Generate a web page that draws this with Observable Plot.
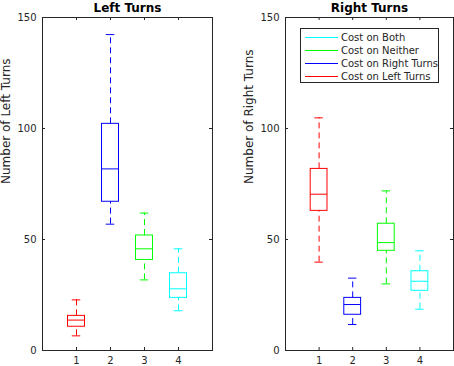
<!DOCTYPE html>
<html>
<head>
<meta charset="utf-8">
<script src="https://cdn.jsdelivr.net/npm/d3@7"></script>
<script src="https://cdn.jsdelivr.net/npm/@observablehq/plot@0.6"></script>
<style>
  html, body { margin: 0; padding: 0; background: #fff; }
  #wrap { position: relative; width: 454px; height: 366px; font-family: "DejaVu Sans", sans-serif; }
  #wrap svg { position: absolute; top: 0; overflow: visible; }
  #legend { position: absolute; left: 300px; top: 28px; width: 137px; height: 53px; border: 1px solid #262626; background: #fff; box-sizing: content-box; }
  .item { position: absolute; left: 0; height: 13px; display: flex; align-items: center; font-size: 10px; color: #262626; white-space: nowrap; }
  .item span.sw { display: inline-block; width: 33px; height: 1px; margin-left: 4px; margin-right: 3px; }
</style>
</head>
<body>
<div id="wrap"></div>
<script>
const categories = [1, 2, 3, 4];
const boxColors = ["#ff0000", "#0000ff", "#00ff00", "#00ffff"];
const yTicks = [0, 50, 100, 150];

// Left turns panel
const leftLow    = [6.6, 56.9, 31.8, 17.9];
const leftQ1     = [10.7, 67.0, 40.8, 23.7];
const leftMedian = [13.7, 81.8, 45.8, 27.8];
const leftQ3     = [15.6, 102.1, 51.8, 34.8];
const leftHigh   = [22.8, 142.3, 61.9, 45.8];

// Right turns panel
const rightLow    = [39.8, 11.7, 30.0, 18.6];
const rightQ1     = [62.9, 16.1, 44.9, 26.9];
const rightMedian = [70.4, 20.7, 48.6, 31.2];
const rightQ3     = [81.8, 23.7, 57.1, 35.7];
const rightHigh   = [104.8, 32.6, 71.9, 44.9];

const legendLabels = ["Cost on Both", "Cost on Neither", "Cost on Right Turns", "Cost on Left Turns"];
const legendColors = ["#00ffff", "#00ff00", "#0000ff", "#ff0000"];

function rows(lo, q1, med, q3, hi) {
  return categories.map((c, i) => ({cat: c, color: boxColors[i], lo: lo[i], q1: q1[i], med: med[i], q3: q3[i], hi: hi[i]}));
}

const H = 366, MT = 17, MB = 16, W = 227;
const ink = "#262626";

function panel({title, ylabel, data, marginLeft, marginRight}) {
  const iw = W - marginLeft - marginRight;
  const ih = H - MT - MB;
  const tk = 3;
  return Plot.plot({
    width: W, height: H,
    marginLeft, marginRight, marginTop: MT, marginBottom: MB,
    style: {fontFamily: "DejaVu Sans, sans-serif", fontSize: "10px", color: ink, background: "transparent", overflow: "visible"},
    x: {domain: [0, 5], label: null},
    y: {domain: [0, 150], label: null},
    color: {type: "identity"},
    marks: [
      // inward tick marks
      Plot.tickY(yTicks, {y: d => d, insetRight: iw - tk, stroke: ink}),
      Plot.tickY(yTicks, {y: d => d, insetLeft: iw - tk, stroke: ink}),
      Plot.tickX(categories, {x: d => d, insetTop: ih - tk, stroke: ink}),
      Plot.tickX(categories, {x: d => d, insetBottom: ih - tk, stroke: ink}),
      Plot.axisY(yTicks, {tickSize: 0, tickPadding: 6, fontSize: 10, fill: ink, label: null}),
      Plot.axisX(categories, {tickSize: 0, tickPadding: 6, fontSize: 10, fill: ink, label: null}),
      // whiskers
      Plot.ruleX(data, {x: "cat", y1: "q3", y2: "hi", stroke: "color", strokeDasharray: "6,4"}),
      Plot.ruleX(data, {x: "cat", y1: "lo", y2: "q1", stroke: "color", strokeDasharray: "6,4"}),
      // caps
      Plot.ruleY(data, {y: "hi", x1: d => d.cat - 0.125, x2: d => d.cat + 0.125, stroke: "color"}),
      Plot.ruleY(data, {y: "lo", x1: d => d.cat - 0.125, x2: d => d.cat + 0.125, stroke: "color"}),
      // boxes
      Plot.rect(data, {x1: d => d.cat - 0.25, x2: d => d.cat + 0.25, y1: "q1", y2: "q3", fill: "none", stroke: "color"}),
      Plot.ruleY(data, {y: "med", x1: d => d.cat - 0.25, x2: d => d.cat + 0.25, stroke: "color"}),
      Plot.frame({stroke: ink}),
      // title
      Plot.text([title], {text: d => d, frameAnchor: "top", dy: -6, lineAnchor: "bottom", fontSize: 12, fontWeight: "bold", fill: "#000"}),
      // y label
      Plot.text([ylabel], {text: d => d, frameAnchor: "left", dx: -36.5, rotate: -90, fontSize: 12, fill: ink})
    ]
  });
}

const wrap = document.getElementById("wrap");
const left = panel({title: "Left Turns", ylabel: "Number of Left Turns", data: rows(leftLow, leftQ1, leftMedian, leftQ3, leftHigh), marginLeft: 42, marginRight: 15});
left.style.left = "0px";
wrap.appendChild(left);
const right = panel({title: "Right Turns", ylabel: "Number of Right Turns", data: rows(rightLow, rightQ1, rightMedian, rightQ3, rightHigh), marginLeft: 58, marginRight: 1});
right.style.left = "227px";
wrap.appendChild(right);

const legend = document.createElement("div");
legend.id = "legend";
legendLabels.forEach((lab, i) => {
  const it = document.createElement("div");
  it.className = "item";
  it.style.top = (1.5 + i * 13) + "px";
  const sw = document.createElement("span");
  sw.className = "sw";
  sw.style.background = legendColors[i];
  it.appendChild(sw);
  const t = document.createElement("span");
  t.textContent = lab;
  it.appendChild(t);
  legend.appendChild(it);
});
wrap.appendChild(legend);
</script>
</body>
</html>
